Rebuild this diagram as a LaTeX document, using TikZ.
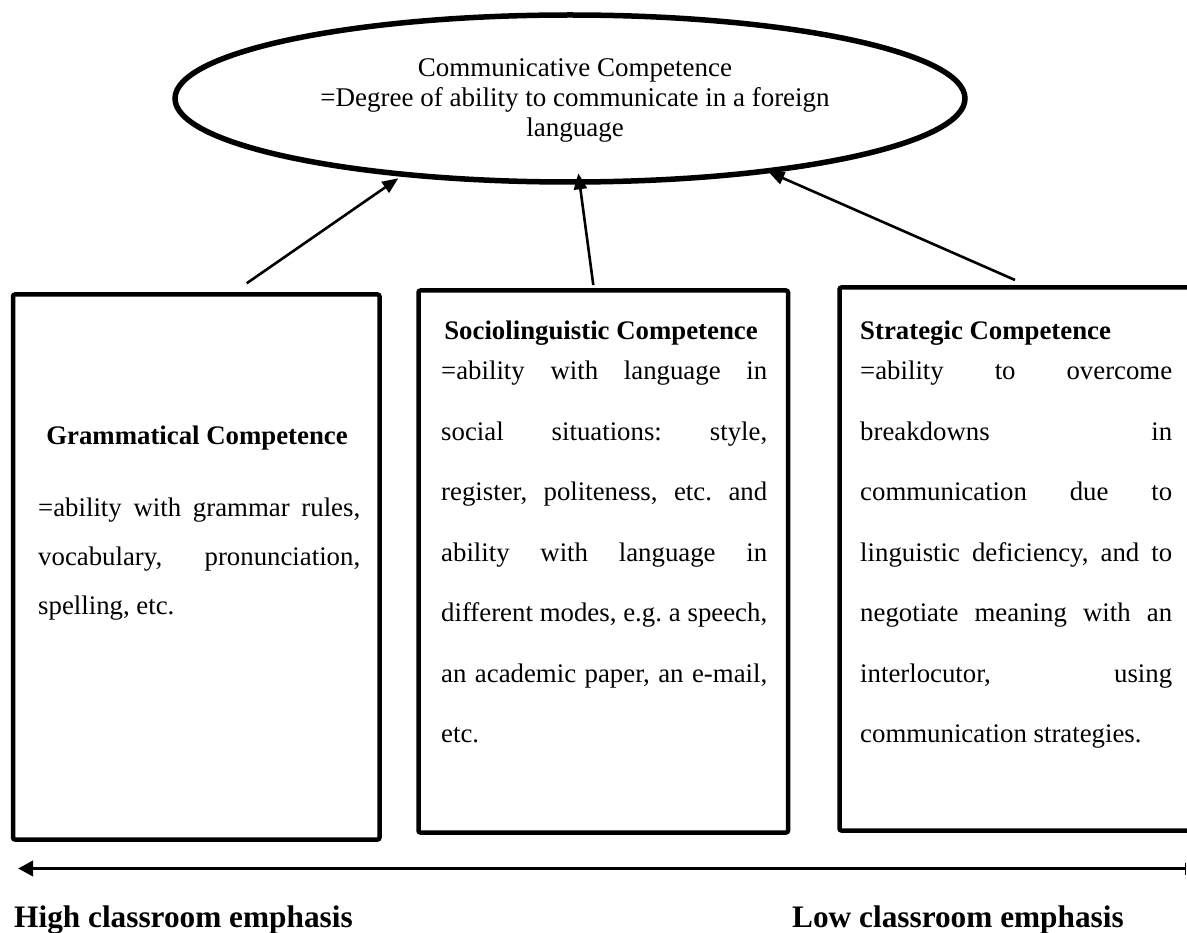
\documentclass[tikz,border=0pt]{standalone}
\usepackage{fontspec}
\setmainfont{Liberation Serif}
\usetikzlibrary{arrows.meta,shapes.geometric}
\newcommand{\jrow}[1]{\makebox[\linewidth][s]{#1}\par}
\begin{document}
\frenchspacing
\begin{tikzpicture}[x=1pt,y=-1pt,
  boxline/.style={line width=4.5pt, rounded corners=2pt},
  feed/.style={line width=2.6pt, -{Triangle[length=16pt,width=13pt]}},
  ctext/.style={inner sep=0pt, anchor=base, font=\fontsize{27}{30.8}\selectfont},
  ttl/.style={inner sep=0pt, font=\fontsize{26.8}{30.8}\selectfont\bfseries},
  para/.style={inner sep=0pt, anchor=base west, font=\fontsize{26.8}{30.8}\selectfont},
  lbl/.style={inner sep=0pt, anchor=base west, font=\fontsize{31.3}{36}\selectfont\bfseries}]
\useasboundingbox (0,0) rectangle (1187,933);

% ellipse
\node[draw, ellipse, line width=5.5pt, minimum width=790pt, minimum height=167pt, inner sep=0pt] (cc) at (570,98.5) {};
\node[ctext] (cc1) at (575,76.5) {Communicative Competence};
\node[ctext] (cc2) at (575,106.5) {=Degree of ability to communicate in a foreign};
\node[ctext] (cc3) at (575,136.5) {language};

% boxes
\draw[boxline] (13,294.5) rectangle (379.5,839.5);
\draw[boxline] (418.5,290.5) rectangle (788,832.5);
\draw[boxline] (1192,287.5) -- (839.5,287.5) -- (839.5,830.5) -- (1192,830.5);

% left box text
\node[ttl, anchor=base] (gt) at (197,445) {Grammatical Competence};
\node[para] (gb) at (38,516) {\parbox[t]{322pt}{\fontsize{26.8}{49}\selectfont
\jrow{=ability with grammar rules,}\jrow{vocabulary, pronunciation,}\mbox{spelling, etc.}}};

% middle box text
\node[ttl, anchor=base] (st) at (601,340) {Sociolinguistic Competence};
\node[para] (sb) at (441,380) {\parbox[t]{326pt}{\fontsize{26.8}{60.5}\selectfont
\jrow{=ability with language in}\jrow{social situations: style,}\jrow{register, politeness, etc. and}\jrow{ability with language in}\jrow{different modes, e.g. a speech,}\jrow{an academic paper, an e-mail,}\mbox{etc.}}};

% right box text
\node[ttl, anchor=base west] (tt) at (860,340) {Strategic Competence};
\node[para] (tb) at (860,380) {\parbox[t]{312pt}{\fontsize{26.8}{60.5}\selectfont
\jrow{=ability to overcome}\jrow{breakdowns in}\jrow{communication due to}\jrow{linguistic deficiency, and to}\jrow{negotiate meaning with an}\jrow{interlocutor, using}\mbox{communication strategies.}}};

% feeding arrows
\coordinate (g1) at (246.7,283.3);
\coordinate (e1) at (398.3,178.3);
\coordinate (s1) at (593.3,285);
\coordinate (e2) at (578.3,173.3);
\coordinate (t1) at (1015,280);
\coordinate (e3) at (768.3,171.7);
\draw[feed] (g1) -- (e1);
\draw[feed] (s1) -- (e2);
\draw[feed] (t1) -- (e3);

% emphasis axis
\coordinate (ar) at (1186,868.5);
\coordinate (al) at (18,868.5);
\draw[line width=3.5pt, {Bar[width=12pt,line width=1.5pt]}-{Triangle[length=15pt,width=15pt]}] (ar) -- (al);
\node[lbl] (hi) at (14,927) {High classroom emphasis};
\node[lbl] (lo) at (792,927) {Low classroom emphasis};
\end{tikzpicture}
\end{document}
